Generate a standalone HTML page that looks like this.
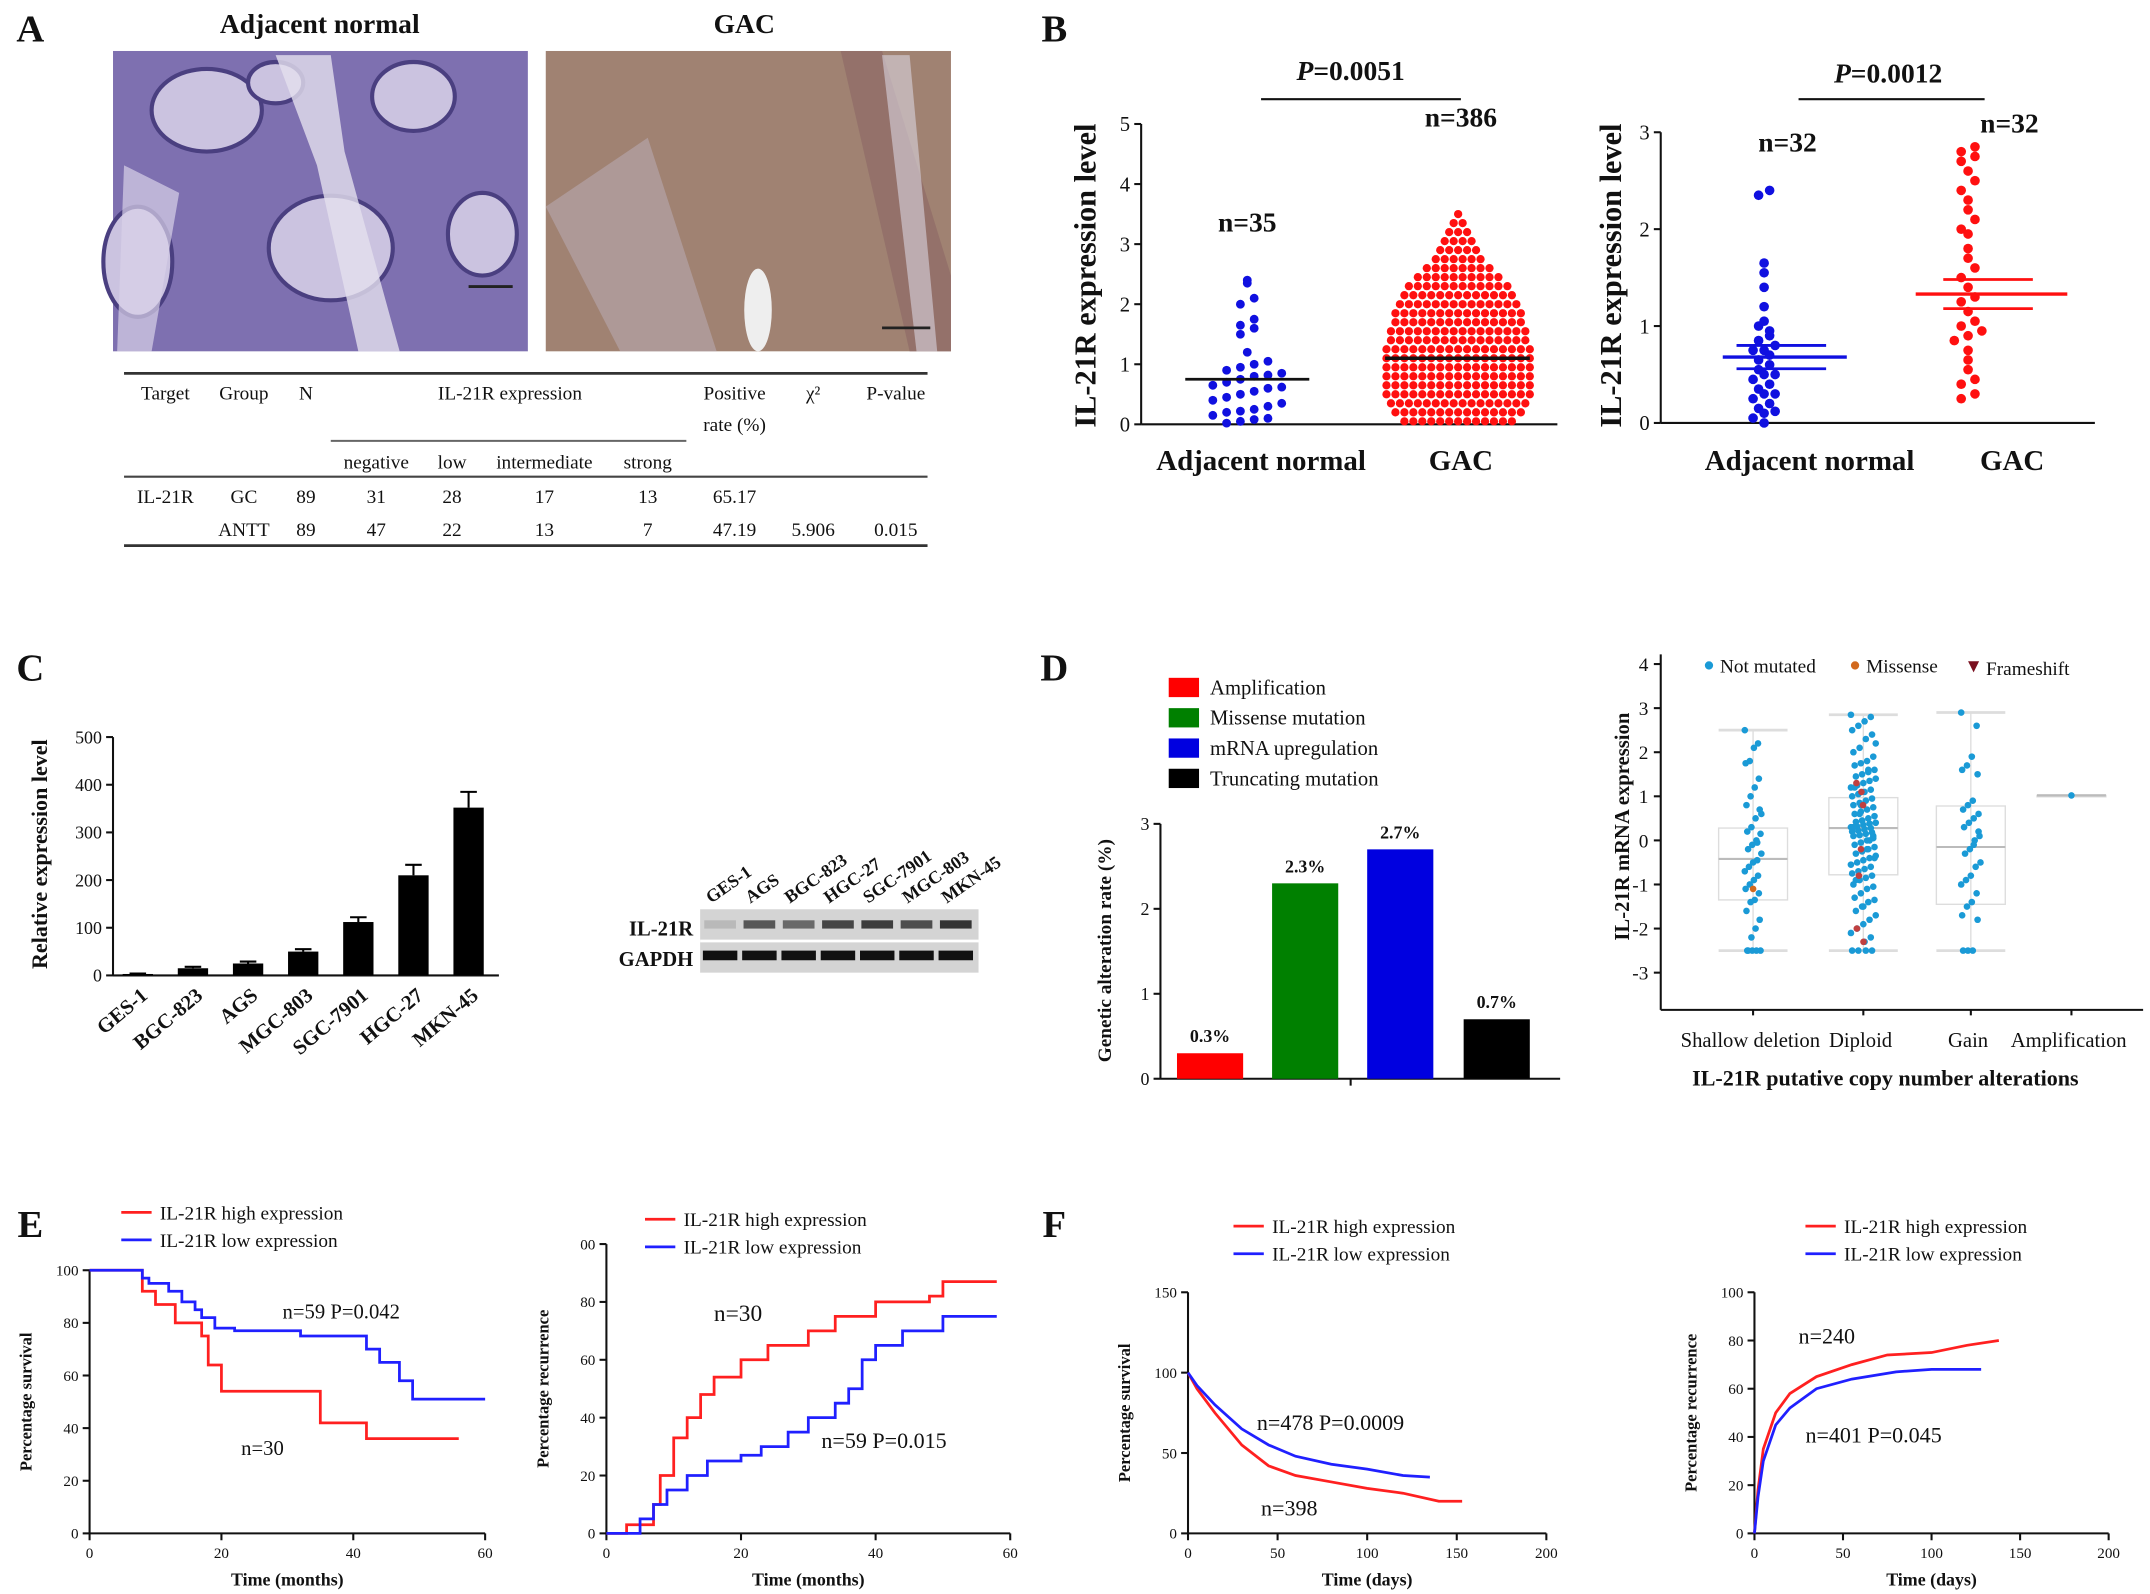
<!DOCTYPE html>
<html><head><meta charset="utf-8"><style>
html,body{margin:0;padding:0;background:#fff;}
svg{display:block;}
text{font-family:"Liberation Serif",serif;}
</style></head><body>
<svg id="fig" xmlns="http://www.w3.org/2000/svg" width="2150" height="1594" viewBox="0 0 1560 1157" preserveAspectRatio="none">
<rect x="0" y="0" width="1560" height="1157" fill="#fff"/>
</svg>
<script>
// ---------- data ----------
const tableHeaders = ["Target","Group","N","negative","low","intermediate","strong","Positive","χ","P-value"];
const tableGC = ["IL-21R","GC","89","31","28","17","13","65.17","",""];
const tableANTT = ["","ANTT","89","47","22","13","7","47.19","5.906","0.015"];

const bTicks = [0,1,2,3,4,5];
const adjValues = [0.02,0.05,0.08,0.1,0.15,0.2,0.22,0.25,0.3,0.35,0.4,0.45,0.5,0.55,0.6,0.62,0.65,0.7,0.75,0.8,0.82,0.85,0.9,0.95,1.0,1.05,1.2,1.5,1.6,1.65,1.75,2.0,2.1,2.35,2.4];
const gacBins = [0.05,0.2,0.35,0.5,0.65,0.8,0.95,1.1,1.25,1.4,1.55,1.7,1.85,2.0,2.15,2.3,2.45,2.6,2.75,2.9,3.05,3.2,3.35,3.5];
const gacCounts = [13,15,16,17,17,17,17,17,17,16,16,15,15,14,13,12,10,8,6,5,4,3,2,1];
const bMeans = [0.75,1.1];

const b2Ticks = [0,1,2,3];
const adj2Values = [0.0,0.05,0.1,0.12,0.15,0.2,0.25,0.3,0.3,0.35,0.4,0.45,0.5,0.5,0.55,0.6,0.65,0.7,0.75,0.75,0.8,0.85,0.9,1.0,1.05,1.2,1.4,1.55,1.65,2.35,2.4,0.95];
const gac2Values = [0.25,0.3,0.4,0.45,0.55,0.65,0.75,0.85,0.9,0.95,1.0,1.05,1.15,1.25,1.3,1.4,1.5,1.6,1.7,1.8,1.95,2.0,2.1,2.2,2.3,2.4,2.5,2.6,2.7,2.75,2.8,2.85];
const b2Means = [0.68,1.33];
const b2Sem = [0.12,0.15];

const cCats = ["GES-1","BGC-823","AGS","MGC-803","SGC-7901","HGC-27","MKN-45"];
const cValues = [3,15,25,50,112,210,352];
const cErrors = [1,3,4,5,10,22,33];
const cTicks = [0,100,200,300,400,500];
const blotLanes = ["GES-1","AGS","BGC-823","HGC-27","SGC-7901","MGC-803","MKN-45"];
const blotIL21R = [0.15,0.7,0.6,0.8,0.85,0.75,0.9];

const dCats = ["Amplification","Missense mutation","mRNA upregulation","Truncating mutation"];
const dValues = [0.3,2.3,2.7,0.7];
const dLabels = ["0.3%","2.3%","2.7%","0.7%"];
const dColors = ["#ff0000","#008000","#0000e0","#000000"];
const dTicks = [0,1,2,3];

const cnaCats = ["Shallow deletion","Diploid","Gain","Amplification"];
const cnaTicks = [4,3,2,1,0,-1,-2,-3];
const cnaQ1 = [-1.35,-0.78,-1.45,1.02];
const cnaMed = [-0.42,0.28,-0.15,1.02];
const cnaQ3 = [0.28,0.97,0.78,1.02];
const cnaLo = [-2.5,-2.5,-2.5,1.02];
const cnaHi = [2.5,2.85,2.9,1.02];
const shallowVals = [2.5,2.2,2.1,1.8,1.75,1.4,1.2,1.0,0.8,0.7,0.5,0.3,0.2,0.15,0.0,-0.1,-0.2,-0.3,-0.45,-0.5,-0.6,-0.7,-0.8,-0.9,-1.0,-1.1,-1.2,-1.35,-1.4,-1.6,-1.8,-2.0,-2.2,-2.5,-2.5,-2.5,-2.5,-2.5,0.6,-0.05];
const diploidVals = [2.85,2.8,2.7,2.6,2.5,2.4,2.3,2.1,2.0,1.9,1.8,1.75,1.7,1.6,1.55,1.5,1.45,1.4,1.35,1.3,1.25,1.2,1.15,1.1,1.05,1.0,0.95,0.9,0.85,0.8,0.75,0.7,0.65,0.6,0.55,0.5,0.45,0.42,0.4,0.38,0.35,0.32,0.3,0.28,0.25,0.22,0.2,0.18,0.15,0.12,0.1,0.05,0.0,-0.05,-0.1,-0.15,-0.2,-0.25,-0.3,-0.35,-0.4,-0.45,-0.5,-0.55,-0.6,-0.65,-0.7,-0.75,-0.8,-0.85,-0.9,-1.0,-1.05,-1.1,-1.2,-1.3,-1.35,-1.4,-1.5,-1.6,-1.7,-1.8,-1.9,-2.0,-2.1,-2.2,-2.3,-2.5,-2.5,-2.5,-2.5,0.6,0.3,0.1,-0.2,0.8,1.2,-0.4,1.6,0.45,-0.9,2.2,0.0,-1.5];
const diploidMis = [1.3,0.8,-0.2,-0.8,-2.0,-2.3,1.1];
const gainVals = [2.9,2.6,1.9,1.7,1.6,1.5,0.9,0.8,0.7,0.6,0.5,0.4,0.3,0.1,0.0,-0.2,-0.3,-0.5,-0.6,-0.8,-0.9,-1.0,-1.2,-1.4,-1.5,-1.7,-1.8,-2.5,-2.5,-2.5,0.2,-0.1];
const shallowMis = [-1.1];

const eTicksX = [0,20,40,60];
const eTicksY = [0,20,40,60,80,100];
const eSurvHighT = [0,8,10,13,17,18,20,25,35,42,56];
const eSurvHighV = [100,92,87,80,75,64,54,54,42,36,36];
const eSurvLowT = [0,8,9,12,14,16,17,19,22,30,32,40,42,44,47,49,60];
const eSurvLowV = [100,97,95,92,88,85,82,78,77,77,75,75,70,65,58,51,51];
const eRecHighT = [0,3,7,8,10,12,14,16,20,24,30,34,40,48,50,58];
const eRecHighV = [0,3,10,20,33,40,48,54,60,65,70,75,80,82,87,87];
const eRecLowT = [0,5,7,9,12,15,20,23,27,30,34,36,38,40,44,50,58];
const eRecLowV = [0,5,10,15,20,25,27,30,35,40,45,50,60,65,70,75,75];

const fTicksX = [0,50,100,150,200];
const fSurvTicksY = [0,50,100,150];
const fRecTicksY = [0,20,40,60,80,100];
const fSurvHighT = [0,5,15,30,45,60,80,100,120,140,153];
const fSurvHighV = [100,90,75,55,42,36,32,28,25,20,20];
const fSurvLowT = [0,5,15,30,45,60,80,100,120,135];
const fSurvLowV = [100,92,80,65,55,48,43,40,36,35];
const fRecHighT = [0,2,5,12,20,35,55,75,100,120,138];
const fRecHighV = [0,18,35,50,58,65,70,74,75,78,80];
const fRecLowT = [0,2,5,12,20,35,55,80,100,128];
const fRecLowV = [0,15,30,45,52,60,64,67,68,68];

// ---------- helpers ----------
const NS = "http://www.w3.org/2000/svg";
const svg = document.getElementById("fig");
function mk(tag, attrs, name, parent){
  const e = document.createElementNS(NS, tag);
  for (const k in attrs) e.setAttribute(k, attrs[k]);
  
  
  (parent || svg).appendChild(e);
  return e;
}
function tx(x, y, s, size, name, opt){
  opt = opt || {};
  const a = {x:x, y:y, "font-size":size, fill: opt.fill || "#111", "text-anchor": opt.anchor || "middle"};
  if (opt.bold) a["font-weight"] = "bold";
  if (opt.italic) a["font-style"] = "italic";
  if (opt.rot !== undefined) a.transform = "rotate(" + opt.rot + " " + x + " " + y + ")";
  const t = mk("text", a, name);
  t.textContent = s;
  return t;
}
function ptext(x, y, val, size, name){
  const t = mk("text",{x:x,y:y,"font-size":size,"font-weight":"bold","text-anchor":"middle",fill:"#111"},name);
  const s1 = document.createElementNS(NS,"tspan");
  s1.setAttribute("font-style","italic");
  s1.textContent = "P";
  t.appendChild(s1);
  const s2 = document.createElementNS(NS,"tspan");
  s2.textContent = "=" + val;
  t.appendChild(s2);
}
function ln(x1,y1,x2,y2,name,stroke,w){
  return mk("line",{x1:x1,y1:y1,x2:x2,y2:y2,stroke:stroke||"#111","stroke-width":w||1.5},name);
}
function lin(d0,d1,r0,r1){ return v => r0 + (v-d0)/(d1-d0)*(r1-r0); }
function stepPath(ts, vs, sx, sy){
  let d = "M" + sx(ts[0]) + " " + sy(vs[0]);
  for (let i=1;i<ts.length;i++){ d += " H" + sx(ts[i]) + " V" + sy(vs[i]); }
  return d;
}
function linePath(ts, vs, sx, sy){
  return ts.map((t,i)=>(i?"L":"M")+sx(t)+" "+sy(vs[i])).join(" ");
}
function yAxis(x, sy, ticks, size, name, fmt){
  ln(x, sy(ticks[0]), x, sy(ticks[ticks.length-1]), name+"-line");
  ticks.forEach(t=>{
    ln(x-5, sy(t), x, sy(t), name+"-tick");
    tx(x-8, sy(t)+size*0.35, fmt?fmt(t):String(t), size, name+"-label", {anchor:"end"});
  });
}
function xAxis(y, sx, ticks, size, name){
  ln(sx(ticks[0]), y, sx(ticks[ticks.length-1]), y, name+"-line");
  ticks.forEach(t=>{
    ln(sx(t), y, sx(t), y+5, name+"-tick");
    tx(sx(t), y+18, String(t), size, name+"-label");
  });
}

// ---------- panel letters ----------
[["A",22,30],["B",765,30],["C",22,494],["D",765,494],["E",22,898],["F",765,898]].forEach(p=>{
  tx(p[1],p[2],p[0],28,"panel-letter-"+p[0].toLowerCase(),{bold:true});
});

// ---------- A: images ----------
tx(232,24,"Adjacent normal",20,"image-title-normal",{bold:true});
tx(540,24,"GAC",20,"image-title-gac",{bold:true});
mk("rect",{x:82,y:37,width:301,height:218,fill:"#7e70b0"},"ihc-image-normal");
[[150,80,40,30],[240,180,45,38],[300,70,30,25],[100,190,25,40],[350,170,25,30],[200,60,20,15]].forEach(c=>{
  mk("ellipse",{cx:c[0],cy:c[1],rx:c[2],ry:c[3],fill:"#cbc3e0",stroke:"#4a3f80","stroke-width":3},"gland");
});
mk("path",{d:"M200 40 L230 120 L260 255 L290 255 L250 110 L240 40Z",fill:"#e4e0ee",opacity:0.8},"stroma");
mk("path",{d:"M90 120 L130 140 L110 255 L85 255Z",fill:"#d8d2e8",opacity:0.7},"stroma");
mk("rect",{x:396,y:37,width:294,height:218,fill:"#a08272"},"ihc-image-gac");
mk("path",{d:"M396 150 L470 100 L520 255 L450 255Z",fill:"#b8a8b0",opacity:0.6},"tissue-streak");
mk("path",{d:"M610 37 L640 37 L690 200 L690 255 L660 255Z",fill:"#8e6a66",opacity:0.7},"tissue-streak");
mk("path",{d:"M640 40 L660 40 L680 255 L665 255Z",fill:"#d8d4e0",opacity:0.6},"tissue-streak");
mk("ellipse",{cx:550,cy:225,rx:10,ry:30,fill:"#eeeeee"},"vessel");
ln(340,208,372,208,"scale-bar","#222",2);
ln(640,238,675,238,"scale-bar","#222",2);

// table
ln(90,271,673,271,"table-rule-top","#333",2);
ln(240,320,498,320,"table-rule-sub","#666",1.5);
ln(90,346,673,346,"table-rule-mid","#444",1.5);
ln(90,396,673,396,"table-rule-bottom","#333",2);
const tcx = [120,177,222,273,328,395,470,533,590,650];
tx(120,290,"Target",14,"table-header");
tx(177,290,"Group",14,"table-header");
tx(222,290,"N",14,"table-header");
tx(370,290,"IL-21R expression",14,"table-header");
tx(533,290,"Positive",14,"table-header");
tx(533,313,"rate (%)",14,"table-header");
tx(590,290,"χ²",14,"table-header");
tx(650,290,"P-value",14,"table-header");
[3,4,5,6].forEach(i=>tx(tcx[i],340,tableHeaders[i],14,"table-subheader"));
tableGC.forEach((s,i)=>{ if(s) tx(tcx[i],365,s,14,"table-cell-gc"); });
tableANTT.forEach((s,i)=>{ if(s) tx(tcx[i],389,s,14,"table-cell-antt"); });

// ---------- B ----------
function swarmVals(vals, cx, sy, rowH, dx, r, color, name){
  const rows = {};
  vals.forEach(v=>{ const k = Math.round(sy(v)/rowH); (rows[k]=rows[k]||[]).push(v); });
  Object.keys(rows).forEach(k=>{
    const arr = rows[k]; const n = arr.length;
    arr.forEach((v,i)=>{
      const off = (i - (n-1)/2)*dx;
      mk("circle",{cx:cx+off,cy:sy(v),r:r,fill:color},name);
    });
  });
}
function swarmBins(bins, counts, cx, sy, dx, r, color, name){
  bins.forEach((b,j)=>{
    const n = counts[j];
    for (let i=0;i<n;i++){
      const off = (i-(n-1)/2)*dx;
      mk("circle",{cx:cx+off,cy:sy(b),r:r,fill:color},name);
    }
  });
}
const syB = lin(0,5,308,90);
yAxis(828, syB, bTicks, 15, "b1-y-axis");
ln(828,308,1130,308,"b1-x-axis");
tx(795,200,"IL-21R expression level",22,"b1-y-title",{bold:true,rot:-90});
tx(915,341,"Adjacent normal",21,"b1-x-label",{bold:true});
tx(1060,341,"GAC",21,"b1-x-label",{bold:true});
swarmVals(adjValues, 905, syB, 11, 10, 3.2, "#1010e0", "b1-point-normal");
swarmBins(gacBins, gacCounts, 1058, syB, 6.5, 3, "#ff1010", "b1-point-gac");
ln(860,syB(bMeans[0]),950,syB(bMeans[0]),"b1-mean-normal","#111",2);
ln(1005,syB(bMeans[1]),1110,syB(bMeans[1]),"b1-mean-gac","#111",2.5);
ln(915,72,1060,72,"b1-significance-bar","#111",1.5);
ptext(980,58,"0.0051",20,"b1-p-value");
tx(905,168,"n=35",20,"b1-n-normal",{bold:true});
tx(1060,92,"n=386",20,"b1-n-gac",{bold:true});

const syB2 = lin(0,3,307,96);
yAxis(1205, syB2, b2Ticks, 15, "b2-y-axis");
ln(1205,307,1520,307,"b2-x-axis");
tx(1176,200,"IL-21R expression level",22,"b2-y-title",{bold:true,rot:-90});
tx(1313,341,"Adjacent normal",21,"b2-x-label",{bold:true});
tx(1460,341,"GAC",21,"b2-x-label",{bold:true});
swarmVals(adj2Values, 1280, syB2, 7, 8, 3.5, "#1010e0", "b2-point-normal");
swarmVals(gac2Values, 1428, syB2, 9, 10, 3.5, "#ff1010", "b2-point-gac");
ln(1250,syB2(b2Means[0]),1340,syB2(b2Means[0]),"b2-mean-normal","#1010e0",2.5);
ln(1260,syB2(b2Means[0]-b2Sem[0]),1325,syB2(b2Means[0]-b2Sem[0]),"b2-sem-normal","#1010e0",2);
ln(1260,syB2(b2Means[0]+b2Sem[0]),1325,syB2(b2Means[0]+b2Sem[0]),"b2-sem-normal","#1010e0",2);
ln(1390,syB2(b2Means[1]),1500,syB2(b2Means[1]),"b2-mean-gac","#ff1010",2.5);
ln(1410,syB2(b2Means[1]-b2Sem[1]),1475,syB2(b2Means[1]-b2Sem[1]),"b2-sem-gac","#ff1010",2);
ln(1410,syB2(b2Means[1]+b2Sem[1]),1475,syB2(b2Means[1]+b2Sem[1]),"b2-sem-gac","#ff1010",2);
ln(1305,72,1440,72,"b2-significance-bar","#111",1.5);
ptext(1370,60,"0.0012",20,"b2-p-value");
tx(1297,110,"n=32",20,"b2-n-normal",{bold:true});
tx(1458,96,"n=32",20,"b2-n-gac",{bold:true});

// ---------- C ----------
const syC = lin(0,500,708,535);
const cStep = 40, cX0 = 100;
yAxis(82, syC, cTicks, 13, "c-y-axis");
ln(82,708,362,708,"c-x-axis");
tx(34,620,"Relative expression level",16,"c-y-title",{bold:true,rot:-90});
cCats.forEach((c,i)=>{
  const cx = cX0 + i*cStep;
  mk("rect",{x:cx-11,y:syC(cValues[i]),width:22,height:708-syC(cValues[i]),fill:"#000"},"c-bar-"+c.toLowerCase());
  ln(cx,syC(cValues[i]),cx,syC(cValues[i]+cErrors[i]),"c-error-bar","#000",1.5);
  ln(cx-6,syC(cValues[i]+cErrors[i]),cx+6,syC(cValues[i]+cErrors[i]),"c-error-cap","#000",1.5);
  tx(cx+8,724,c,15,"c-x-label",{bold:true,anchor:"end",rot:-40});
});
// blot
mk("rect",{x:508,y:660,width:202,height:46,fill:"#d4d4d4"},"western-blot");
ln(508,683,710,683,"blot-divider","#fff",2);
blotLanes.forEach((l,i)=>{
  const bx = 522 + i*28.5;
  mk("rect",{x:bx-11,y:668,width:23,height:6,fill:"#222",opacity:blotIL21R[i]},"blot-band-il21r");
  mk("rect",{x:bx-12,y:690,width:25,height:7,fill:"#111"},"blot-band-gapdh");
  tx(bx-6,656,l,13,"blot-lane-label",{bold:true,anchor:"start",rot:-35});
});
tx(503,679,"IL-21R",15,"blot-row-label",{bold:true,anchor:"end"});
tx(503,701,"GAPDH",15,"blot-row-label",{bold:true,anchor:"end"});

// ---------- D bars ----------
dCats.forEach((c,i)=>{
  mk("rect",{x:848,y:492+i*22,width:22,height:14,fill:dColors[i]},"d-legend-swatch");
  tx(878,504+i*22,c,15,"d-legend-label",{anchor:"start"});
});
const syD = lin(0,3,783,598);
yAxis(842, syD, dTicks, 13, "d-y-axis");
ln(842,783,1132,783,"d-x-axis");
ln(980,783,980,788,"d-x-tick");
tx(806,690,"Genetic alteration rate (%)",14,"d-y-title",{bold:true,rot:-90});
const dCx = [878,947,1016,1086];
dValues.forEach((v,i)=>{
  mk("rect",{x:dCx[i]-24,y:syD(v),width:48,height:783-syD(v),fill:dColors[i]},"d-bar");
  tx(dCx[i],syD(v)-8,dLabels[i],13,"d-bar-label",{bold:true});
});

// ---------- D scatter ----------
const syS = lin(-3,4,706,482);
ln(1205,475,1205,733,"d2-y-axis");
ln(1205,733,1555,733,"d2-x-axis");
cnaTicks.forEach(t=>{ ln(1200,syS(t),1205,syS(t),"d2-y-tick"); tx(1196,syS(t)+5,String(t),14,"d2-y-label",{anchor:"end"}); });
tx(1182,600,"IL-21R mRNA expression",15,"d2-y-title",{bold:true,rot:-90});
tx(1368,788,"IL-21R putative copy number alterations",16,"d2-x-title",{bold:true});
const cnaX = [1272,1352,1430,1503];
cnaCats.forEach((c,i)=>{
  const x = cnaX[i];
  ln(x,733,x,737,"d2-x-tick");
  tx(x-2,760,c,15,"d2-x-label");
  ln(x,syS(cnaLo[i]),x,syS(cnaHi[i]),"d2-whisker","#ddd",1);
  ln(x-25,syS(cnaLo[i]),x+25,syS(cnaLo[i]),"d2-whisker-cap","#ddd",2);
  ln(x-25,syS(cnaHi[i]),x+25,syS(cnaHi[i]),"d2-whisker-cap","#ddd",2);
  mk("rect",{x:x-25,y:syS(cnaQ3[i]),width:50,height:Math.max(1,syS(cnaQ1[i])-syS(cnaQ3[i])),fill:"none",stroke:"#ddd","stroke-width":1},"d2-box");
  ln(x-25,syS(cnaMed[i]),x+25,syS(cnaMed[i]),"d2-median","#bbb",1.5);
});
function jit(vals,cx,spread,color,name){
  vals.forEach((v,i)=>{
    const off = (((i*37)%21)-10)/10*spread;
    mk("circle",{cx:cx+off,cy:syS(v),r:2.4,fill:color},name);
  });
}
jit(shallowVals,1272,6,"#1a9ad6","d2-point-shallow");
jit(diploidVals,1352,9,"#1a9ad6","d2-point-diploid");
jit(gainVals,1430,7,"#1a9ad6","d2-point-gain");
jit([1.02],1503,0,"#1a9ad6","d2-point-amp");
jit(shallowMis,1272,0,"#d2691e","d2-point-missense");
jit(diploidMis,1350,3,"#c04040","d2-point-missense");
mk("circle",{cx:1240,cy:483,r:3,fill:"#1a9ad6"},"d2-legend-dot");
tx(1248,488,"Not mutated",14,"d2-legend-label",{anchor:"start"});
mk("circle",{cx:1346,cy:483,r:3,fill:"#d2691e"},"d2-legend-dot");
tx(1354,488,"Missense",14,"d2-legend-label",{anchor:"start"});
mk("path",{d:"M1428 480 L1436 480 L1432 488Z",fill:"#7a1020"},"d2-legend-triangle");
tx(1441,490,"Frameshift",14,"d2-legend-label",{anchor:"start"});

// ---------- E / F ----------
function kmPanel(ax, ay0, axEnd, ayTop, xMax, yMax, xTicks, yTicks, series, ytitle, xtitle, name, smooth, ylabelFmt){
  const sx = lin(0,xMax,ax,axEnd);
  const sy = lin(0,yMax,ay0,ayTop);
  yAxis(ax, sy, yTicks, 11, name+"-y-axis", ylabelFmt);
  xAxis(ay0, sx, xTicks, 11, name+"-x-axis");
  tx(ax-42,(ay0+ayTop)/2,ytitle,12,name+"-y-title",{bold:true,rot:-90});
  tx((ax+axEnd)/2,ay0+38,xtitle,13,name+"-x-title",{bold:true});
  series.forEach(s=>{
    const d = smooth ? linePath(s.t,s.v,sx,sy) : stepPath(s.t,s.v,sx,sy);
    mk("path",{d:d,fill:"none",stroke:s.c,"stroke-width":2},name+"-curve-"+s.n);
  });
}
function kmLegend(x,y,name){
  ln(x,y,x+22,y,name+"-legend-high","#ff2020",2);
  tx(x+28,y+5,"IL-21R high expression",14,name+"-legend-label",{anchor:"start"});
  ln(x,y+20,x+22,y+20,name+"-legend-low","#2020ff",2);
  tx(x+28,y+25,"IL-21R low expression",14,name+"-legend-label",{anchor:"start"});
}
kmPanel(65,1113,352,922,60,100,eTicksX,eTicksY,[{t:eSurvHighT,v:eSurvHighV,c:"#ff2020",n:"high"},{t:eSurvLowT,v:eSurvLowV,c:"#2020ff",n:"low"}],"Percentage survival","Time (months)","e1",false);
kmLegend(88,880,"e1");
tx(205,957,"n=59  P=0.042",15,"e1-annotation",{anchor:"start"});
tx(175,1056,"n=30",15,"e1-annotation",{anchor:"start"});

kmPanel(440,1113,733,903,60,100,eTicksX,eTicksY,[{t:eRecHighT,v:eRecHighV,c:"#ff2020",n:"high"},{t:eRecLowT,v:eRecLowV,c:"#2020ff",n:"low"}],"Percentage recurrence","Time (months)","e2",false,t=>t===100?"00":String(t));
kmLegend(468,885,"e2");
tx(518,959,"n=30",17,"e2-annotation",{anchor:"start"});
tx(596,1051,"n=59  P=0.015",16,"e2-annotation",{anchor:"start"});

kmPanel(862,1113,1122,938,200,150,fTicksX,fSurvTicksY,[{t:fSurvHighT,v:fSurvHighV,c:"#ff2020",n:"high"},{t:fSurvLowT,v:fSurvLowV,c:"#2020ff",n:"low"}],"Percentage survival","Time (days)","f1",true);
kmLegend(895,890,"f1");
tx(912,1038,"n=478  P=0.0009",16,"f1-annotation",{anchor:"start"});
tx(915,1100,"n=398",16,"f1-annotation",{anchor:"start"});

kmPanel(1273,1113,1530,938,200,100,fTicksX,fRecTicksY,[{t:fRecHighT,v:fRecHighV,c:"#ff2020",n:"high"},{t:fRecLowT,v:fRecLowV,c:"#2020ff",n:"low"}],"Percentage recurrence","Time (days)","f2",true);
kmLegend(1310,890,"f2");
tx(1305,975,"n=240",16,"f2-annotation",{anchor:"start"});
tx(1310,1047,"n=401  P=0.045",16,"f2-annotation",{anchor:"start"});
</script>
</body></html>
